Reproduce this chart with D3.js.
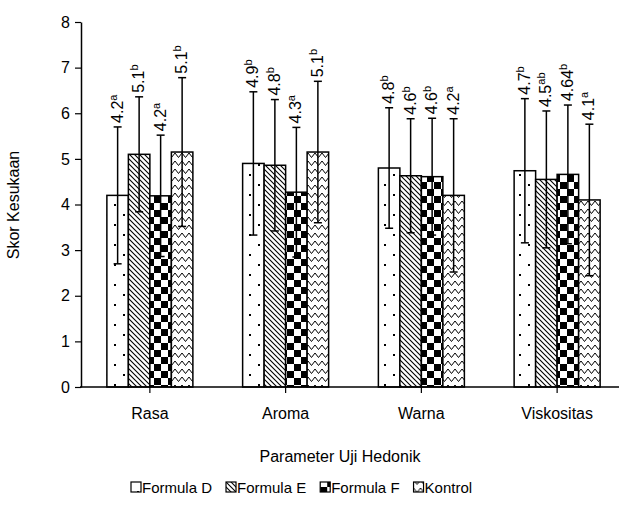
<!DOCTYPE html>
<html>
<head>
<meta charset="utf-8">
<script src="https://cdn.jsdelivr.net/npm/d3@7"></script>
<style>
  body { margin: 0; background: #fff; }
  svg { font-family: "Liberation Sans", Arial, sans-serif; }
</style>
</head>
<body>
<script>
// Data
const categories = ["Rasa", "Aroma", "Warna", "Viskositas"];
const seriesNames = ["Formula D", "Formula E", "Formula F", "Kontrol"];

const meanD = [4.2, 4.9, 4.8, 4.74];
const meanE = [5.1, 4.86, 4.63, 4.55];
const meanF = [4.19, 4.27, 4.61, 4.66];
const meanK = [5.15, 5.15, 4.2, 4.1];

const sdD = [1.5, 1.57, 1.32, 1.58];
const sdE = [1.26, 1.44, 1.25, 1.5];
const sdF = [1.33, 1.42, 1.28, 1.52];
const sdK = [1.63, 1.55, 1.68, 1.66];

const labelD = ["4.2", "4.9", "4.8", "4.7"];
const labelE = ["5.1", "4.8", "4.6", "4.5"];
const labelF = ["4.2", "4.3", "4.6", "4.64"];
const labelK = ["5.1", "5.1", "4.2", "4.1"];

const supD = ["a", "b", "b", "b"];
const supE = ["b", "b", "b", "ab"];
const supF = ["a", "a", "b", "b"];
const supK = ["b", "b", "a", "a"];

const yTicks = [0, 1, 2, 3, 4, 5, 6, 7, 8];

const means = [meanD, meanE, meanF, meanK];
const sds = [sdD, sdE, sdF, sdK];
const labels = [labelD, labelE, labelF, labelK];
const sups = [supD, supE, supF, supK];

const width = 619, height = 505;

const svg = d3.select("body").append("svg")
    .attr("width", width)
    .attr("height", height);

// Fill patterns
const defs = svg.append("defs");

const pD = defs.append("pattern").attr("id", "pat0")
    .attr("patternUnits", "userSpaceOnUse")
    .attr("width", 18).attr("height", 20);
pD.append("rect").attr("width", 18).attr("height", 20).attr("fill", "#fff");
pD.append("rect").attr("x", 6).attr("y", 4).attr("width", 2).attr("height", 2).attr("fill", "#000");
pD.append("rect").attr("x", 15).attr("y", 14).attr("width", 2).attr("height", 2).attr("fill", "#000");

const pE = defs.append("pattern").attr("id", "pat1")
    .attr("patternUnits", "userSpaceOnUse")
    .attr("width", 5).attr("height", 5);
pE.append("rect").attr("width", 5).attr("height", 5).attr("fill", "#fff");
pE.append("path").attr("d", "M-1,-1L6,6M-1,4L1,6M4,-1L6,1")
    .attr("stroke", "#000").attr("stroke-width", 1.1);

const pF = defs.append("pattern").attr("id", "pat2")
    .attr("patternUnits", "userSpaceOnUse")
    .attr("width", 14).attr("height", 14);
pF.append("rect").attr("width", 14).attr("height", 14).attr("fill", "#fff");
pF.append("rect").attr("width", 7).attr("height", 7).attr("fill", "#000");
pF.append("rect").attr("x", 7).attr("y", 7).attr("width", 7).attr("height", 7).attr("fill", "#000");

const pK = defs.append("pattern").attr("id", "pat3")
    .attr("patternUnits", "userSpaceOnUse")
    .attr("width", 7).attr("height", 8);
pK.append("rect").attr("width", 7).attr("height", 8).attr("fill", "#fff");
pK.append("path").attr("d", "M0,1L3.5,5.5L7,1")
    .attr("fill", "none").attr("stroke", "#000").attr("stroke-width", 1);

// Scales
const x0 = d3.scaleBand().domain(categories).range([82, 625]);
const x1 = d3.scaleBand().domain(seriesNames).range([0, 86]);
const y = d3.scaleLinear().domain([0, 8]).range([387, 22]);

// Y axis
const yAxis = svg.append("g")
    .attr("transform", "translate(81,0)")
    .call(d3.axisLeft(y).tickValues(yTicks).tickSize(6).tickSizeOuter(0).tickPadding(5));
yAxis.select(".domain").attr("stroke-width", 1.5);
yAxis.selectAll(".tick line").attr("stroke-width", 1.2);
yAxis.selectAll("text").attr("font-size", 16).attr("fill", "#000");

// Bars
const rows = [];
categories.forEach((c, ci) => {
    seriesNames.forEach((s, si) => {
        rows.push({ c, s, si, v: means[si][ci], sd: sds[si][ci], lab: labels[si][ci], sup: sups[si][ci] });
    });
});

const barX = d => x0(d.c) + x0.bandwidth() / 2 - 43 + x1(d.s);
const barC = d => barX(d) + x1.bandwidth() / 2;

svg.append("g").selectAll("rect")
    .data(rows)
    .enter()
    .append("rect")
    .attr("x", barX)
    .attr("y", d => y(d.v))
    .attr("width", x1.bandwidth())
    .attr("height", d => y(0) - y(d.v))
    .attr("fill", d => "url(#pat" + d.si + ")")
    .attr("stroke", "#000")
    .attr("stroke-width", 1.5);

// Error bars
const err = svg.append("g").attr("stroke", "#000").attr("stroke-width", 1.5);
rows.forEach(d => {
    const cx = barC(d);
    err.append("line").attr("x1", cx).attr("x2", cx)
        .attr("y1", y(d.v + d.sd)).attr("y2", y(d.v - d.sd));
    err.append("line").attr("x1", cx - 4).attr("x2", cx + 4)
        .attr("y1", y(d.v + d.sd)).attr("y2", y(d.v + d.sd));
    err.append("line").attr("x1", cx - 4).attr("x2", cx + 4)
        .attr("y1", y(d.v - d.sd)).attr("y2", y(d.v - d.sd));
});

// Value labels, rotated
rows.forEach(d => {
    const t = svg.append("text")
        .attr("transform", "translate(" + (barC(d) + 5) + "," + (y(d.v + d.sd) - 4) + ") rotate(-90)")
        .attr("font-size", 16)
        .attr("fill", "#000");
    t.append("tspan").text(d.lab);
    t.append("tspan").attr("font-size", 11).attr("dy", -6).text(d.sup);
});

// X axis
const xAxis = svg.append("g")
    .attr("transform", "translate(0,387)");
xAxis.append("line").attr("x1", 80).attr("x2", 619)
    .attr("stroke", "#000").attr("stroke-width", 1.5);
categories.forEach(c => {
    const cx = x0(c) + x0.bandwidth() / 2;
    xAxis.append("line").attr("x1", cx).attr("x2", cx).attr("y1", 0).attr("y2", 6)
        .attr("stroke", "#000").attr("stroke-width", 1.2);
    xAxis.append("text").attr("x", cx).attr("y", 32)
        .attr("text-anchor", "middle").attr("font-size", 16).text(c);
});

// Axis titles
svg.append("text")
    .attr("x", 340).attr("y", 462)
    .attr("text-anchor", "middle").attr("font-size", 16)
    .text("Parameter Uji Hedonik");

svg.append("text")
    .attr("transform", "translate(19,205) rotate(-90)")
    .attr("text-anchor", "middle").attr("font-size", 16)
    .text("Skor Kesukaan");

// Legend
const legend = svg.append("g").attr("transform", "translate(131,487)");
let lx = 0;
seriesNames.forEach((s, si) => {
    const item = legend.append("g").attr("transform", "translate(" + lx + ",0)");
    item.append("rect").attr("x", 0).attr("y", -5).attr("width", 10).attr("height", 10)
        .attr("fill", "url(#pat" + si + ")").attr("stroke", "#000").attr("stroke-width", 1.2);
    const t = item.append("text").attr("x", 11).attr("y", 6).attr("font-size", 15).text(s);
    lx += 11 + t.node().getComputedTextLength() + 14;
});
</script>
</body>
</html>
